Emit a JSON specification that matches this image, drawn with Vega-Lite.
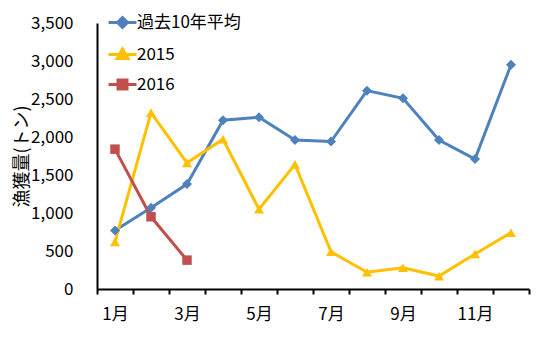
{
  "$schema": "https://vega.github.io/schema/vega-lite/v6.json",
  "width": 432,
  "height": 266,
  "autosize": {"type": "none"},
  "padding": {"left": 97, "top": 23, "right": 26, "bottom": 75},
  "background": "white",
  "config": {"view": {"stroke": null}, "font": "Noto Sans CJK JP"},
  "data": {
    "values": [
      {"series": "過去10年平均", "month": 1, "catch": 770},
      {"series": "過去10年平均", "month": 2, "catch": 1070},
      {"series": "過去10年平均", "month": 3, "catch": 1380},
      {"series": "過去10年平均", "month": 4, "catch": 2220},
      {"series": "過去10年平均", "month": 5, "catch": 2260},
      {"series": "過去10年平均", "month": 6, "catch": 1960},
      {"series": "過去10年平均", "month": 7, "catch": 1940},
      {"series": "過去10年平均", "month": 8, "catch": 2610},
      {"series": "過去10年平均", "month": 9, "catch": 2510},
      {"series": "過去10年平均", "month": 10, "catch": 1960},
      {"series": "過去10年平均", "month": 11, "catch": 1710},
      {"series": "過去10年平均", "month": 12, "catch": 2950},
      {"series": "2015", "month": 1, "catch": 620},
      {"series": "2015", "month": 2, "catch": 2320},
      {"series": "2015", "month": 3, "catch": 1660},
      {"series": "2015", "month": 4, "catch": 1970},
      {"series": "2015", "month": 5, "catch": 1050},
      {"series": "2015", "month": 6, "catch": 1640},
      {"series": "2015", "month": 7, "catch": 490},
      {"series": "2015", "month": 8, "catch": 220},
      {"series": "2015", "month": 9, "catch": 280},
      {"series": "2015", "month": 10, "catch": 170},
      {"series": "2015", "month": 11, "catch": 460},
      {"series": "2015", "month": 12, "catch": 740},
      {"series": "2016", "month": 1, "catch": 1840},
      {"series": "2016", "month": 2, "catch": 950},
      {"series": "2016", "month": 3, "catch": 380}
    ]
  },
  "encoding": {
    "x": {
      "field": "month",
      "type": "ordinal",
      "scale": {"type": "band", "paddingInner": 0, "paddingOuter": 0},
      "axis": {
        "title": null,
        "labelAngle": 0,
        "labelExpr": "datum.value % 2 == 1 ? datum.value + '月' : ''",
        "labelOverlap": false,
        "tickBand": "extent",
        "tickSize": 5,
        "tickWidth": 2,
        "tickColor": "black",
        "domainWidth": 2,
        "domainColor": "black",
        "labelFontSize": 17,
        "labelPadding": 12,
        "labelColor": "black",
        "grid": false
      }
    },
    "y": {
      "field": "catch",
      "type": "quantitative",
      "scale": {"domain": [0, 3500]},
      "axis": {
        "title": "漁獲量(トン)",
        "titleFontSize": 18,
        "titleFontWeight": "normal",
        "titleColor": "black",
        "titleX": -75,
        "titleY": 133,
        "titleAngle": -90,
        "titleAlign": "center",
        "titleBaseline": "middle",
        "values": [0, 500, 1000, 1500, 2000, 2500, 3000, 3500],
        "format": ",d",
        "ticks": false,
        "domainColor": "black",
        "domainWidth": 2,
        "labelFontSize": 17,
        "labelColor": "black",
        "labelPadding": 24,
        "grid": false
      }
    },
    "color": {
      "field": "series",
      "type": "nominal",
      "scale": {
        "domain": ["過去10年平均", "2015", "2016"],
        "range": ["#4F81BD", "#FFC000", "#C0504D"]
      },
      "legend": {
        "orient": "none",
        "legendX": 7,
        "legendY": -9,
        "title": null,
        "padding": 0,
        "labelFontSize": 17,
        "labelColor": "black",
        "symbolOffset": 10,
        "labelOffset": 6,
        "rowPadding": 9,
        "encode": {
          "symbols": {
            "update": {
              "shape": {"signal": "datum.value == '2015' ? 'M-2.8,0L2.8,0M0,-1.1L1.1,0.8L-1.1,0.8Z' : (datum.value == '2016' ? 'M-2.8,0L2.8,0M-0.9,-0.9L0.9,-0.9L0.9,0.9L-0.9,0.9Z' : 'M-2.8,0L2.8,0M0,-1L1,0L0,1L-1,0Z')"},
              "stroke": {"scale": "color", "field": "value"},
              "fill": {"scale": "color", "field": "value"},
              "strokeWidth": {"value": 3},
              "opacity": {"value": 1},
              "fillOpacity": {"value": 1},
              "size": {"value": 100}
            }
          }
        }
      }
    }
  },
  "layer": [
    {"mark": {"type": "line", "strokeWidth": 3}},
    {
      "transform": [{"filter": "datum.series == '過去10年平均'"}],
      "mark": {"type": "point", "filled": true, "opacity": 1, "size": 100, "shape": "diamond"}
    },
    {
      "transform": [{"filter": "datum.series == '2015'"}],
      "mark": {"type": "point", "filled": true, "opacity": 1, "size": 100, "shape": "triangle-up"}
    },
    {
      "transform": [{"filter": "datum.series == '2016'"}],
      "mark": {"type": "point", "filled": true, "opacity": 1, "size": 90, "shape": "square"}
    }
  ]
}
